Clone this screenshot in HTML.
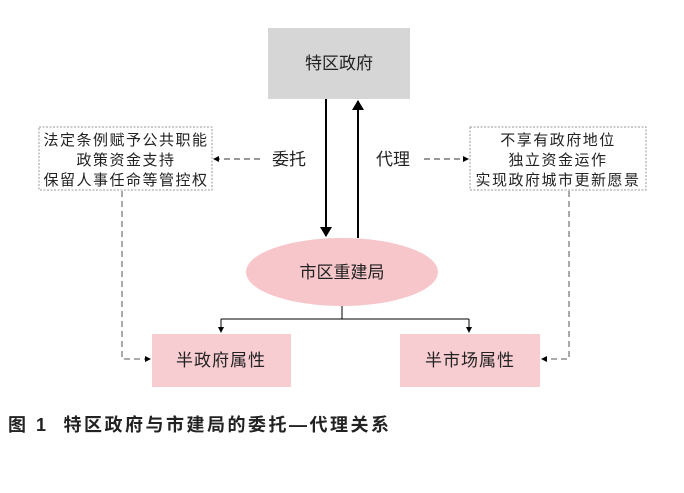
<!DOCTYPE html>
<html><head><meta charset="utf-8"><style>
body{margin:0;background:#fff;width:684px;height:488px;overflow:hidden;font-family:"Liberation Sans","Noto Sans CJK SC",sans-serif}
</style></head><body>
<svg width="684" height="488" xmlns="http://www.w3.org/2000/svg" style="font-family:'Liberation Sans','Noto Sans CJK SC',sans-serif">
<defs>
<marker id="s" markerWidth="6" markerHeight="6" refX="5" refY="3" orient="auto" markerUnits="userSpaceOnUse"><path d="M0,0L6,3L0,6z" fill="#000"/></marker>
<marker id="b" markerWidth="10" markerHeight="12" refX="9" refY="6" orient="auto" markerUnits="userSpaceOnUse"><path d="M0,0L10,6L0,12z" fill="#000"/></marker>
</defs>
<rect x="268" y="28" width="142" height="71" fill="#d6d6d6"/>
<text x="339" y="69" font-size="17" text-anchor="middle" fill="#222">特区政府</text>
<rect x="39" y="127" width="173" height="63" fill="#fff" stroke="#999" stroke-dasharray="2,1.5"/>
<g font-size="15" letter-spacing="1.5" text-anchor="middle" fill="#222">
<text x="126" y="145">法定条例赋予公共职能</text><text x="126" y="165">政策资金支持</text><text x="126" y="185">保留人事任命等管控权</text></g>
<rect x="470" y="127" width="176" height="63" fill="#fff" stroke="#999" stroke-dasharray="2,1.5"/>
<g font-size="15" letter-spacing="1.5" text-anchor="middle" fill="#222">
<text x="558" y="145">不享有政府地位</text><text x="558" y="165">独立资金运作</text><text x="558" y="185">实现政府城市更新愿景</text></g>
<line x1="326" y1="99" x2="326" y2="236" stroke="#000" stroke-width="2" marker-end="url(#b)"/>
<line x1="358" y1="238" x2="358" y2="101" stroke="#000" stroke-width="2" marker-end="url(#b)"/>
<text x="289" y="165" font-size="17" text-anchor="middle" fill="#222">委托</text>
<text x="393" y="165" font-size="17" text-anchor="middle" fill="#222">代理</text>
<line x1="260" y1="159" x2="214" y2="159" stroke="#333" stroke-dasharray="6,4" marker-end="url(#s)"/>
<line x1="424" y1="159" x2="468" y2="159" stroke="#333" stroke-dasharray="6,4" marker-end="url(#s)"/>
<ellipse cx="342" cy="272" rx="96" ry="34" fill="#f6c6cb"/>
<text x="342" y="278" font-size="17" text-anchor="middle" fill="#222">市区重建局</text>
<path d="M342 306V319M221 319H469" stroke="#000" fill="none"/>
<line x1="221" y1="319" x2="221" y2="332" stroke="#000" marker-end="url(#s)"/>
<line x1="469" y1="319" x2="469" y2="332" stroke="#000" marker-end="url(#s)"/>
<rect x="152" y="334" width="139" height="53" fill="#f8cdd2"/>
<text x="221" y="366" font-size="17" letter-spacing="1" text-anchor="middle" fill="#222">半政府属性</text>
<rect x="400" y="334" width="140" height="53" fill="#f8cdd2"/>
<text x="470" y="366" font-size="17" letter-spacing="1" text-anchor="middle" fill="#222">半市场属性</text>
<path d="M122 191V359H150" stroke="#555" fill="none" stroke-dasharray="6,4" marker-end="url(#s)"/>
<path d="M569 191V359H542" stroke="#555" fill="none" stroke-dasharray="6,4" marker-end="url(#s)"/>
<text x="8" y="431" font-size="18" letter-spacing="2.5" font-weight="bold" fill="#222" xml:space="preserve">图 1  特区政府与市建局的委托—代理关系</text>
</svg>
</body></html>
